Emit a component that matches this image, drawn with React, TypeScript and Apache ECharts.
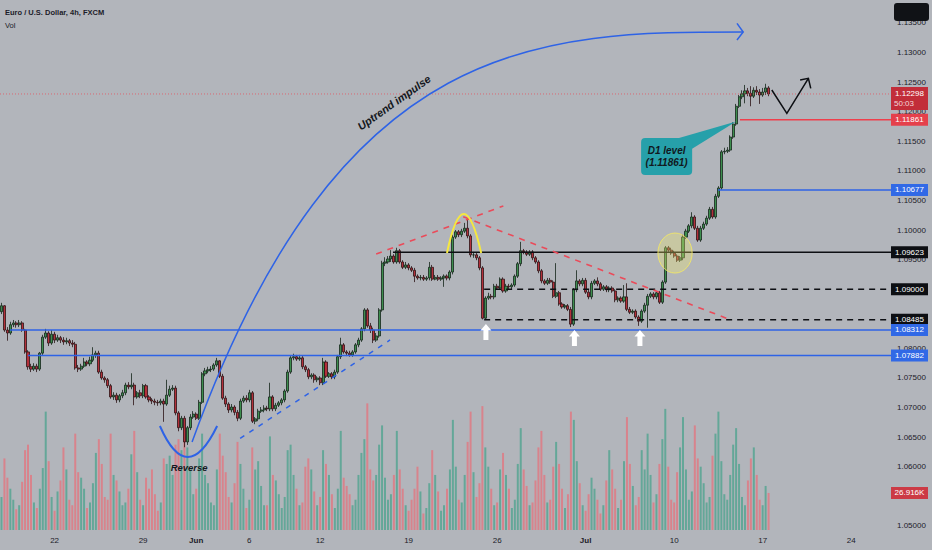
import React, { useEffect, useRef } from "react";
import * as echarts from "echarts";

const FONT = '"Liberation Sans", Arial, sans-serif';
const BG = "#b2b5bb";
const TEXT = "#1c2029";
const BLUE = "#2e63e6";
const RED = "#ef3f4c";
const BLACK = "#0d0f13";
const PINK_DASH = "#ea4b5a";
const YELLOW = "#f6e83e";
const TEAL = "#26a0aa";
const UP = "#3d8e4e";
const DOWN = "#b3303a";
const UP_EDGE = "#15261a";
const DOWN_EDGE = "#2c1315";
const VOL_UP = "#64a798";
const VOL_DOWN = "#d8838c";

const TITLE = "Euro / U.S. Dollar, 4h, FXCM";
const VOL_TITLE = "Vol";

const N_SLOTS = 302;
const GRID_RIGHT = 41;
const GRID_BOTTOM = 20;

// time axis ticks (bar index -> label)
const TICK_INDEX = [18, 48, 66, 84, 108, 138, 168, 198, 228, 258, 288];
const TICK_LABELS = ["22", "29", "Jun", "6", "12", "19", "26", "Jul", "10", "17", "24"];
const MONTH_LABELS = ["Jun", "Jul"];

// price axis (labels that sit under a price tag are left out, as on the reference)
const PRICE_TICKS = [1.05, 1.06, 1.065, 1.07, 1.075, 1.08, 1.095, 1.1, 1.105, 1.11, 1.115, 1.12, 1.125, 1.13, 1.135];
const PRICE_MIN = 1.049324;
const PRICE_MAX = 1.138852;
const VOLUME_MAX = 385000;

// EUR/USD 4h candles
const FIRST_OPEN = 1.0862;
const CLOSE = [
  1.0872, 1.0831, 1.0826, 1.084, 1.0843, 1.084, 1.0843, 1.0831, 1.0794, 1.0769,
  1.0765, 1.077, 1.0765, 1.0792, 1.0819, 1.0826, 1.0809, 1.0824, 1.0814, 1.0818,
  1.0814, 1.0811, 1.0813, 1.0809, 1.0807, 1.0767, 1.0765, 1.077, 1.0777, 1.0774,
  1.078, 1.0789, 1.0792, 1.076, 1.075, 1.0747, 1.0737, 1.0718, 1.0721, 1.0713,
  1.072, 1.0725, 1.0738, 1.0735, 1.0738, 1.0718, 1.0725, 1.072, 1.0737, 1.0718,
  1.0713, 1.0711, 1.0709, 1.0708, 1.0711, 1.0706, 1.0721, 1.0731, 1.0733, 1.0691,
  1.0666, 1.0682, 1.0642, 1.0666, 1.0684, 1.0689, 1.0682, 1.0709, 1.0757, 1.0762,
  1.0764, 1.0765, 1.0772, 1.0779, 1.0753, 1.0716, 1.0706, 1.0696, 1.0701, 1.0692,
  1.0682, 1.0711, 1.0716, 1.0713, 1.0725, 1.0677, 1.0681, 1.0694, 1.0696, 1.0699,
  1.0698, 1.0718, 1.0698, 1.0704, 1.0708, 1.0713, 1.0728, 1.076, 1.0784, 1.0786,
  1.0782, 1.0784, 1.0769, 1.0764, 1.0752, 1.0755, 1.0747, 1.075, 1.0742, 1.0777,
  1.0753, 1.0757, 1.0752, 1.076, 1.0786, 1.0806, 1.0794, 1.0792, 1.0789, 1.0794,
  1.0806, 1.0814, 1.0833, 1.0865, 1.0838, 1.0831, 1.0814, 1.0821, 1.0865, 1.0944,
  1.0946, 1.0951, 1.0956, 1.0946, 1.0965, 1.0946, 1.0937, 1.0941, 1.0936, 1.0932,
  1.0922, 1.0919, 1.092, 1.0917, 1.0919, 1.0937, 1.0917, 1.092, 1.0917, 1.0919,
  1.0922, 1.0919, 1.0929, 1.0988, 1.0997, 1.0992, 1.0998, 1.1003, 1.099, 1.0958,
  1.0958, 1.0953, 1.0936, 1.0851, 1.0885, 1.0888, 1.0887, 1.0905, 1.0902, 1.0917,
  1.0897, 1.0905, 1.0904, 1.0907, 1.0922, 1.0943, 1.0965, 1.0963, 1.0959, 1.0963,
  1.0953, 1.0946, 1.0931, 1.0914, 1.091, 1.0915, 1.0912, 1.0888, 1.0894, 1.0875,
  1.087, 1.0872, 1.0866, 1.0841, 1.0899, 1.0914, 1.0909, 1.0915, 1.0895, 1.0887,
  1.091, 1.0914, 1.0909, 1.09, 1.0904, 1.0899, 1.0902, 1.0897, 1.0882, 1.0885,
  1.088, 1.0887, 1.0866, 1.0861, 1.0863, 1.0853, 1.0846, 1.0863, 1.0873, 1.0888,
  1.0892, 1.0887, 1.0894, 1.0878, 1.0912, 1.097, 1.0966, 1.0961, 1.0956, 1.0949,
  1.0953, 1.0988, 1.0998, 1.1007, 1.1022, 1.1003, 1.0983, 1.1003, 1.101, 1.102,
  1.1035, 1.1022, 1.1057, 1.1071, 1.1132, 1.1133, 1.1135, 1.1157, 1.1179, 1.1209,
  1.1225, 1.123, 1.1235, 1.1231, 1.1226, 1.1236, 1.1233, 1.1228, 1.1233, 1.124,
  1.12298,
];
const HIGH = [
  1.0877, 1.0873, 1.0836, 1.0845, 1.0848, 1.0846, 1.0848, 1.0846, 1.0833, 1.0797,
  1.0774, 1.0775, 1.0774, 1.0794, 1.0823, 1.0833, 1.0829, 1.0831, 1.0828, 1.0823,
  1.0821, 1.0819, 1.0818, 1.0816, 1.0814, 1.0811, 1.0772, 1.0774, 1.0784, 1.078,
  1.0786, 1.0802, 1.0796, 1.0796, 1.0764, 1.0753, 1.075, 1.074, 1.0726, 1.0725,
  1.0723, 1.073, 1.0742, 1.0743, 1.0758, 1.0742, 1.0728, 1.073, 1.074, 1.074,
  1.0721, 1.0716, 1.0715, 1.0713, 1.0715, 1.0715, 1.0747, 1.0737, 1.0738, 1.0737,
  1.0694, 1.0686, 1.0686, 1.0669, 1.0689, 1.0694, 1.0692, 1.0713, 1.076, 1.0767,
  1.0769, 1.077, 1.0775, 1.0784, 1.078, 1.0757, 1.072, 1.0709, 1.0706, 1.0704,
  1.0696, 1.0715, 1.072, 1.0721, 1.073, 1.0728, 1.0684, 1.0698, 1.0701, 1.0704,
  1.0703, 1.0742, 1.0721, 1.0708, 1.0711, 1.0716, 1.0731, 1.0764, 1.0787, 1.0791,
  1.0789, 1.0789, 1.0787, 1.0772, 1.0767, 1.0758, 1.0758, 1.0753, 1.0753, 1.0784,
  1.078, 1.076, 1.076, 1.0764, 1.0789, 1.0818, 1.0809, 1.0797, 1.0796, 1.0797,
  1.0809, 1.0818, 1.0836, 1.0868, 1.0868, 1.0843, 1.0835, 1.0826, 1.0868, 1.0948,
  1.0954, 1.0956, 1.0966, 1.0959, 1.097, 1.0968, 1.0949, 1.0946, 1.0944, 1.0939,
  1.0936, 1.0925, 1.0924, 1.0924, 1.0922, 1.0946, 1.0941, 1.0924, 1.0924, 1.0922,
  1.0925, 1.0925, 1.0932, 1.0992, 1.1, 1.1, 1.1002, 1.1012, 1.102, 1.0993,
  1.0963, 1.0961, 1.0956, 1.0939, 1.0888, 1.0894, 1.0892, 1.0909, 1.0909, 1.092,
  1.092, 1.0909, 1.0909, 1.091, 1.0925, 1.0946, 1.098, 1.0968, 1.0966, 1.0966,
  1.0966, 1.0956, 1.0949, 1.0934, 1.0917, 1.0919, 1.0919, 1.0915, 1.0944, 1.0897,
  1.0878, 1.0875, 1.0875, 1.087, 1.0902, 1.0932, 1.0917, 1.0919, 1.0919, 1.0899,
  1.0914, 1.0917, 1.092, 1.0912, 1.0907, 1.0907, 1.0905, 1.0905, 1.09, 1.0888,
  1.0888, 1.0907, 1.091, 1.087, 1.0866, 1.0866, 1.0856, 1.0866, 1.0877, 1.0892,
  1.0895, 1.0895, 1.0897, 1.0897, 1.0915, 1.0973, 1.0973, 1.097, 1.0965, 1.0959,
  1.0956, 1.0992, 1.1002, 1.101, 1.103, 1.1025, 1.1007, 1.1007, 1.1014, 1.1024,
  1.1039, 1.1039, 1.1061, 1.1074, 1.1135, 1.1139, 1.114, 1.116, 1.1182, 1.1213,
  1.1228, 1.1236, 1.1245, 1.124, 1.1243, 1.1241, 1.1243, 1.1238, 1.124, 1.1247,
  1.1243,
];
const LOW = [
  1.0858, 1.0828, 1.0813, 1.0823, 1.0836, 1.0835, 1.0836, 1.0828, 1.0791, 1.0764,
  1.076, 1.0762, 1.076, 1.0762, 1.0789, 1.0816, 1.0804, 1.0806, 1.0809, 1.0811,
  1.0809, 1.0806, 1.0807, 1.0804, 1.0802, 1.0764, 1.076, 1.0762, 1.0767, 1.077,
  1.077, 1.0777, 1.0784, 1.0757, 1.0747, 1.0742, 1.0733, 1.0715, 1.0713, 1.0708,
  1.0709, 1.0716, 1.0721, 1.0731, 1.0731, 1.0704, 1.0715, 1.0716, 1.0716, 1.0715,
  1.0709, 1.0706, 1.0704, 1.0703, 1.0704, 1.0676, 1.0703, 1.0718, 1.0728, 1.0687,
  1.066, 1.0662, 1.0633, 1.0637, 1.0662, 1.0681, 1.0679, 1.0679, 1.0706, 1.0753,
  1.0758, 1.076, 1.0762, 1.0769, 1.075, 1.0713, 1.0701, 1.0691, 1.0692, 1.0687,
  1.0677, 1.0679, 1.0708, 1.0709, 1.0709, 1.0674, 1.0672, 1.0677, 1.0691, 1.0692,
  1.0694, 1.0694, 1.0694, 1.0694, 1.0701, 1.0704, 1.0709, 1.0725, 1.0757, 1.078,
  1.0779, 1.0779, 1.0765, 1.076, 1.0748, 1.0748, 1.0742, 1.0743, 1.0738, 1.0738,
  1.075, 1.075, 1.0748, 1.0748, 1.0757, 1.0782, 1.0791, 1.0787, 1.0786, 1.0786,
  1.0791, 1.0802, 1.0811, 1.0829, 1.0835, 1.0826, 1.0809, 1.0811, 1.0818, 1.0862,
  1.0939, 1.0943, 1.0946, 1.0943, 1.0943, 1.0943, 1.0934, 1.0934, 1.0932, 1.0929,
  1.0912, 1.0916, 1.0915, 1.0914, 1.0914, 1.0915, 1.0914, 1.0915, 1.0914, 1.0914,
  1.0904, 1.0915, 1.0915, 1.0925, 1.0985, 1.0988, 1.0988, 1.0995, 1.0986, 1.0954,
  1.0953, 1.0949, 1.0932, 1.0849, 1.0848, 1.0882, 1.0883, 1.0883, 1.0899, 1.0899,
  1.0894, 1.0894, 1.09, 1.09, 1.0904, 1.0919, 1.0939, 1.0959, 1.0956, 1.0956,
  1.0949, 1.0943, 1.0927, 1.091, 1.0907, 1.0907, 1.0909, 1.0885, 1.0885, 1.0872,
  1.0867, 1.0867, 1.0863, 1.0836, 1.0838, 1.0895, 1.0905, 1.0905, 1.0892, 1.0883,
  1.0883, 1.0907, 1.0905, 1.0897, 1.0897, 1.0895, 1.0895, 1.0894, 1.0878, 1.0878,
  1.0877, 1.0877, 1.0863, 1.0858, 1.0858, 1.085, 1.0838, 1.0843, 1.086, 1.0835,
  1.0885, 1.0883, 1.0883, 1.0875, 1.0875, 1.0909, 1.0963, 1.0958, 1.0953, 1.0946,
  1.0946, 1.0949, 1.0985, 1.0995, 1.1003, 1.1, 1.098, 1.098, 1.1, 1.1007,
  1.1017, 1.1019, 1.1019, 1.1054, 1.1068, 1.1128, 1.113, 1.1132, 1.1154, 1.1176,
  1.1206, 1.1221, 1.1214, 1.1226, 1.1209, 1.1223, 1.1228, 1.1213, 1.1225, 1.1228,
  1.1226,
];
// volume, thousands
const VOLUME_K = [
  24, 52, 38, 30, 22, 15, 18, 35, 58, 62, 40, 20, 16, 30, 45, 86, 50, 24,
  14, 28, 36, 60, 44, 22, 18, 70, 42, 38, 30, 16, 20, 34, 56, 66, 48, 24,
  22, 70, 40, 36, 28, 18, 20, 30, 55, 72, 42, 22, 18, 38, 30, 44, 26, 14,
  20, 52, 48, 54, 40, 62, 66, 58, 74, 60, 44, 26, 30, 52, 70, 40, 34, 20,
  18, 44, 70, 54, 42, 24, 20, 34, 64, 48, 30, 16, 22, 60, 44, 50, 32, 18,
  18, 68, 40, 36, 26, 16, 24, 58, 62, 40, 30, 18, 20, 46, 52, 44, 28, 18,
  24, 58, 48, 40, 26, 16, 30, 72, 38, 32, 26, 18, 22, 40, 56, 66, 92, 44,
  36, 40, 62, 76, 38, 22, 26, 40, 72, 44, 30, 18, 14, 22, 30, 46, 28, 12,
  16, 34, 58, 40, 28, 14, 18, 30, 44, 80, 46, 22, 20, 40, 64, 86, 42, 24,
  34, 90, 60, 46, 30, 18, 20, 44, 56, 40, 30, 16, 22, 48, 74, 44, 32, 18,
  20, 36, 60, 72, 40, 20, 22, 46, 64, 48, 30, 16, 26, 86, 80, 50, 34, 18,
  14, 26, 38, 30, 22, 12, 18, 36, 58, 44, 30, 16, 22, 50, 82, 48, 32, 18,
  24, 58, 44, 70, 40, 20, 26, 48, 66, 88, 46, 22, 20, 42, 60, 82, 44, 22,
  28, 76, 52, 46, 34, 20, 24, 54, 70, 86, 50, 26, 22, 40, 62, 74, 48, 24,
  18, 36, 52, 60, 40, 22, 18, 32, 26.916,
];

const LAST_PRICE = 1.12298;
const COUNTDOWN = "50:03";
const LAST_VOLUME = 26916;
const LAST_VOLUME_LABEL = "26.916K";

// horizontal levels: price, first bar index, kind
const LEVEL_PRICES = [1.11861, 1.10677, 1.09623, 1.09, 1.08485, 1.08312, 1.07882];
const LEVEL_FROM = [250.3, 242.9, 132.7, 163.6, 163.6, 2.9, 9.0];
const LEVEL_KIND = ["red", "blue", "black", "blackDash", "blackDash", "blue", "blue"];

// drawings, in (bar index, price)
const IMPULSE_ARC = [[64.6, 1.06419], [114.8, 1.13344], [183.6, 1.13344], [251.4, 1.13344]];
const IMPULSE_HEAD = [[249.3, 1.13491], [251.4, 1.13344], [249.3, 1.13209]];
const REVERSE_CUP = [[53.7, 1.06689], [62.9, 1.05642], [73.1, 1.06689]];
const REVERSE_LABEL_AT = [63.6, 1.05996];
const REVERSE_TEXT = "Reverse";
const TOP_ARCH = [[151.0, 1.09611], [156.6, 1.10929], [162.6, 1.09611]];
const RING_CENTER = [228.3, 1.09611];
const RING_RADIUS = [5.8, 0.00338];
const WEDGE_TOP = [[127.0, 1.09594], [170.1, 1.10406]];
const DOWN_TREND = [[156.5, 1.10225], [245.8, 1.08508]];
const UP_TREND = [[80.9, 1.06481], [131.7, 1.08142]];
const BOUNCE_ARROWS = [[164.2, 1.08277], [194.2, 1.08176], [216.4, 1.08176]];
const IMPULSE_LABEL_AT = [133.05, 1.12154];
const IMPULSE_TEXT = "Uptrend impulse";
const IMPULSE_ANGLE = 35.3;
const CALLOUT_BOX = [[216.8, 1.11554], [234.1, 1.10929]];
const CALLOUT_POINTER = [[227.3, 1.1152], [249.0, 1.11833], [233.4, 1.11351]];
const CALLOUT_TEXT = "D1 level\n(1.11861)";
const PROJECTION = [[261.1, 1.12365], [266.2, 1.11971], [273.5, 1.12562]];
const PROJECTION_HEAD = [[270.7, 1.12534], [273.5, 1.12562], [274.3, 1.12393]];

function buildOption() {
  const ohlc = CLOSE.map((c, i) => {
    const o = i === 0 ? FIRST_OPEN : CLOSE[i - 1];
    return [o, c, Math.min(LOW[i], o, c), Math.max(HIGH[i], o, c)];
  });
  const vols = VOLUME_K.map((v, i) => ({
    value: v * 1000,
    itemStyle: { color: ohlc[i][1] >= ohlc[i][0] ? VOL_UP : VOL_DOWN },
  }));
  const cats = Array.from({ length: N_SLOTS }, (_, i) => String(i));
  return {
    animation: false,
    backgroundColor: BG,
    grid: { left: 0, right: GRID_RIGHT, top: 0, bottom: GRID_BOTTOM },
    xAxis: {
      type: "category",
      data: cats,
      boundaryGap: true,
      axisLine: { show: false },
      axisTick: { show: false },
      splitLine: { show: false },
      axisLabel: {
        interval: (idx: number) => TICK_INDEX.includes(idx),
        formatter: (_v: string, idx: number) => {
          const k = TICK_INDEX.indexOf(idx);
          const t = k >= 0 ? TICK_LABELS[k] : "";
          return MONTH_LABELS.includes(t) ? `{m|${t}}` : t;
        },
        fontSize: 8,
        fontFamily: FONT,
        color: TEXT,
        margin: 6,
        rich: { m: { fontWeight: "bold", fontSize: 8, fontFamily: FONT, color: TEXT } },
      },
    },
    yAxis: [
      {
        type: "value",
        position: "right",
        min: PRICE_MIN,
        max: PRICE_MAX,
        axisLine: { show: false },
        axisTick: { show: false },
        splitLine: { show: false },
        axisLabel: {
          customValues: PRICE_TICKS,
          formatter: (v: number) => v.toFixed(5),
          fontSize: 8,
          fontFamily: FONT,
          color: TEXT,
          margin: 6,
        },
      },
      { type: "value", min: 0, max: VOLUME_MAX, show: false },
    ],
    series: [
      {
        type: "bar",
        xAxisIndex: 0,
        yAxisIndex: 1,
        barWidth: 2,
        data: vols,
        silent: true,
        z: 1,
      },
      {
        type: "candlestick",
        xAxisIndex: 0,
        yAxisIndex: 0,
        barWidth: 2.6,
        data: ohlc,
        silent: true,
        z: 2,
        itemStyle: {
          color: UP,
          color0: DOWN,
          borderColor: UP_EDGE,
          borderColor0: DOWN_EDGE,
          borderWidth: 0.8,
        },
      },
    ],
  };
}

function buildGraphics(chart: any) {
  const W = chart.getWidth();
  const xR = W - GRID_RIGHT;
  const X = (i: number) => {
    const a = Math.floor(i);
    const xa = chart.convertToPixel({ xAxisIndex: 0 }, a) as number;
    const xb = chart.convertToPixel({ xAxisIndex: 0 }, a + 1) as number;
    return xa + (i - a) * (xb - xa);
  };
  const Y = (p: number) => chart.convertToPixel({ yAxisIndex: 0 }, p) as number;
  const YV = (v: number) => chart.convertToPixel({ yAxisIndex: 1 }, v) as number;
  const P = (pt: number[]) => [X(pt[0]), Y(pt[1])];
  const g: any[] = [];
  const Z = 20;

  // current price line
  g.push({
    type: "line", z: Z, silent: true,
    shape: { x1: 0, y1: Y(LAST_PRICE), x2: xR, y2: Y(LAST_PRICE) },
    style: { stroke: "rgba(239,63,76,0.8)", lineWidth: 0.8, lineDash: [1, 2] },
  });

  // levels
  LEVEL_PRICES.forEach((p, k) => {
    const kind = LEVEL_KIND[k];
    const stroke = kind === "red" ? RED : kind === "blue" ? BLUE : BLACK;
    g.push({
      type: "line", z: Z, silent: true,
      shape: { x1: X(LEVEL_FROM[k]), y1: Y(p), x2: xR, y2: Y(p) },
      style: { stroke, lineWidth: 1.5, lineDash: kind === "blackDash" ? [6, 5] : null },
    });
  });

  // trend lines
  const dashLine = (pts: number[][], stroke: string, dash: number[], w: number) => {
    const a = P(pts[0]);
    const b = P(pts[1]);
    g.push({
      type: "line", z: Z, silent: true,
      shape: { x1: a[0], y1: a[1], x2: b[0], y2: b[1] },
      style: { stroke, lineWidth: w, lineDash: dash },
    });
  };
  dashLine(WEDGE_TOP, PINK_DASH, [6, 6], 1.6);
  dashLine(DOWN_TREND, PINK_DASH, [6, 6], 1.6);
  dashLine(UP_TREND, BLUE, [5, 6], 1.5);

  // impulse arc
  const a0 = P(IMPULSE_ARC[0]);
  const a1 = P(IMPULSE_ARC[1]);
  const a2 = P(IMPULSE_ARC[2]);
  const a3 = P(IMPULSE_ARC[3]);
  g.push({
    type: "bezierCurve", z: Z, silent: true,
    shape: { x1: a0[0], y1: a0[1], cpx1: a1[0], cpy1: a1[1], cpx2: a2[0], cpy2: a2[1], x2: a3[0], y2: a3[1] },
    style: { stroke: BLUE, lineWidth: 1.5, fill: null },
  });
  g.push({
    type: "polyline", z: Z, silent: true,
    shape: { points: IMPULSE_HEAD.map(P) },
    style: { stroke: BLUE, lineWidth: 1.5, fill: null },
  });

  // reverse cup
  const r0 = P(REVERSE_CUP[0]);
  const r1 = P(REVERSE_CUP[1]);
  const r2 = P(REVERSE_CUP[2]);
  g.push({
    type: "bezierCurve", z: Z, silent: true,
    shape: { x1: r0[0], y1: r0[1], cpx1: r1[0], cpy1: r1[1], x2: r2[0], y2: r2[1] },
    style: { stroke: BLUE, lineWidth: 2, fill: null },
  });
  const rl = P(REVERSE_LABEL_AT);
  g.push({
    type: "text", z: Z + 1, silent: true, x: rl[0], y: rl[1],
    style: {
      text: REVERSE_TEXT, fill: "#141820", fontSize: 9.5, fontWeight: "bold", fontStyle: "italic",
      fontFamily: FONT, align: "center", verticalAlign: "middle",
    },
  });

  // top arch
  const t0 = P(TOP_ARCH[0]);
  const t1 = P(TOP_ARCH[1]);
  const t2 = P(TOP_ARCH[2]);
  g.push({
    type: "bezierCurve", z: Z, silent: true,
    shape: { x1: t0[0], y1: t0[1], cpx1: t1[0], cpy1: t1[1], x2: t2[0], y2: t2[1] },
    style: { stroke: YELLOW, lineWidth: 2, fill: null },
  });

  // breakout ring
  const rc = P(RING_CENTER);
  const rx = X(RING_CENTER[0] + RING_RADIUS[0]) - rc[0];
  const ry = Y(RING_CENTER[1] - RING_RADIUS[1]) - rc[1];
  g.push({
    type: "ellipse", z: Z, silent: true,
    shape: { cx: rc[0], cy: rc[1], rx, ry },
    style: { fill: "rgba(245,235,110,0.32)", stroke: "rgba(243,232,100,0.85)", lineWidth: 1 },
  });

  // bounce arrows
  BOUNCE_ARROWS.forEach((pt) => {
    const c = P(pt);
    const pts = [[0, -8], [5.5, -1.5], [2.5, -1.5], [2.5, 8], [-2.5, 8], [-2.5, -1.5], [-5.5, -1.5]];
    g.push({
      type: "polygon", z: Z + 1, silent: true,
      shape: { points: pts.map(([dx, dy]) => [c[0] + dx, c[1] + dy]) },
      style: { fill: "#ffffff", stroke: null },
    });
  });

  // impulse label
  const il = P(IMPULSE_LABEL_AT);
  g.push({
    type: "text", z: Z + 1, silent: true, x: il[0], y: il[1],
    rotation: (IMPULSE_ANGLE * Math.PI) / 180,
    style: {
      text: IMPULSE_TEXT, fill: "#141820", fontSize: 11, fontWeight: "bold", fontStyle: "italic",
      fontFamily: FONT, align: "center", verticalAlign: "middle",
    },
  });

  // D1 callout
  const b0 = P(CALLOUT_BOX[0]);
  const b1 = P(CALLOUT_BOX[1]);
  g.push({
    type: "polygon", z: Z + 1, silent: true,
    shape: { points: CALLOUT_POINTER.map(P) },
    style: { fill: TEAL, stroke: null },
  });
  g.push({
    type: "rect", z: Z + 1, silent: true,
    shape: { x: b0[0], y: b0[1], width: b1[0] - b0[0], height: b1[1] - b0[1], r: 4 },
    style: { fill: TEAL, stroke: null },
  });
  g.push({
    type: "text", z: Z + 2, silent: true, x: (b0[0] + b1[0]) / 2, y: (b0[1] + b1[1]) / 2,
    style: {
      text: CALLOUT_TEXT, fill: "#111820", fontSize: 10, fontWeight: "bold", fontStyle: "italic",
      fontFamily: FONT, align: "center", verticalAlign: "middle", lineHeight: 11.5,
    },
  });

  // projection zigzag
  g.push({
    type: "polyline", z: Z, silent: true,
    shape: { points: PROJECTION.map(P) },
    style: { stroke: BLACK, lineWidth: 1.5, fill: null },
  });
  g.push({
    type: "polyline", z: Z, silent: true,
    shape: { points: PROJECTION_HEAD.map(P) },
    style: { stroke: BLACK, lineWidth: 1.5, fill: null },
  });

  // header
  g.push({
    type: "text", z: Z + 2, silent: true, x: 5, y: 12,
    style: { text: TITLE, fill: TEXT, fontSize: 7.5, fontWeight: "bold", fontFamily: FONT, verticalAlign: "middle" },
  });
  g.push({
    type: "text", z: Z + 2, silent: true, x: 5, y: 25,
    style: { text: VOL_TITLE, fill: TEXT, fontSize: 7.5, fontFamily: FONT, verticalAlign: "middle" },
  });

  // axis tags
  const tagW = 37;
  const tag = (y: number, fill: string, text: string) => {
    g.push({
      type: "rect", z: Z + 3, silent: true,
      shape: { x: xR, y: y - 6, width: tagW, height: 12 },
      style: { fill, stroke: null },
    });
    g.push({
      type: "text", z: Z + 4, silent: true, x: xR + tagW / 2, y,
      style: { text, fill: "#ffffff", fontSize: 8, fontFamily: FONT, align: "center", verticalAlign: "middle" },
    });
  };
  LEVEL_PRICES.forEach((p, k) => {
    const kind = LEVEL_KIND[k];
    const fill = kind === "red" ? "#e5404b" : kind === "blue" ? "#3169e6" : BLACK;
    tag(Y(p), fill, p.toFixed(5));
  });
  const yl = Y(LAST_PRICE);
  g.push({
    type: "rect", z: Z + 3, silent: true,
    shape: { x: xR, y: yl - 7, width: tagW, height: 23 },
    style: { fill: "#c22d39", stroke: null },
  });
  g.push({
    type: "text", z: Z + 4, silent: true, x: xR + tagW / 2, y: yl,
    style: { text: LAST_PRICE.toFixed(5), fill: "#ffffff", fontSize: 8, fontFamily: FONT, align: "center", verticalAlign: "middle" },
  });
  g.push({
    type: "text", z: Z + 4, silent: true, x: xR + 3, y: yl + 10,
    style: { text: COUNTDOWN, fill: "#f3d6d8", fontSize: 8, fontFamily: FONT, align: "left", verticalAlign: "middle" },
  });
  tag(YV(LAST_VOLUME), "#cc3a45", LAST_VOLUME_LABEL);

  // top right box
  g.push({
    type: "rect", z: Z + 5, silent: true,
    shape: { x: 894, y: 3, width: 35, height: 18, r: 3 },
    style: { fill: "#101216", stroke: null },
  });
  return g;
}

export default function App() {
  const ref = useRef<HTMLDivElement>(null);
  useEffect(() => {
    const el = ref.current;
    if (!el) return;
    const chart = echarts.init(el, undefined, { renderer: "svg" });
    chart.setOption(buildOption() as any);
    chart.setOption({ graphic: { elements: buildGraphics(chart) } } as any);
    return () => chart.dispose();
  }, []);
  return (
    <div
      ref={ref}
      style={{ position: "fixed", left: 0, top: 0, width: 932, height: 550 }}
    />
  );
}
